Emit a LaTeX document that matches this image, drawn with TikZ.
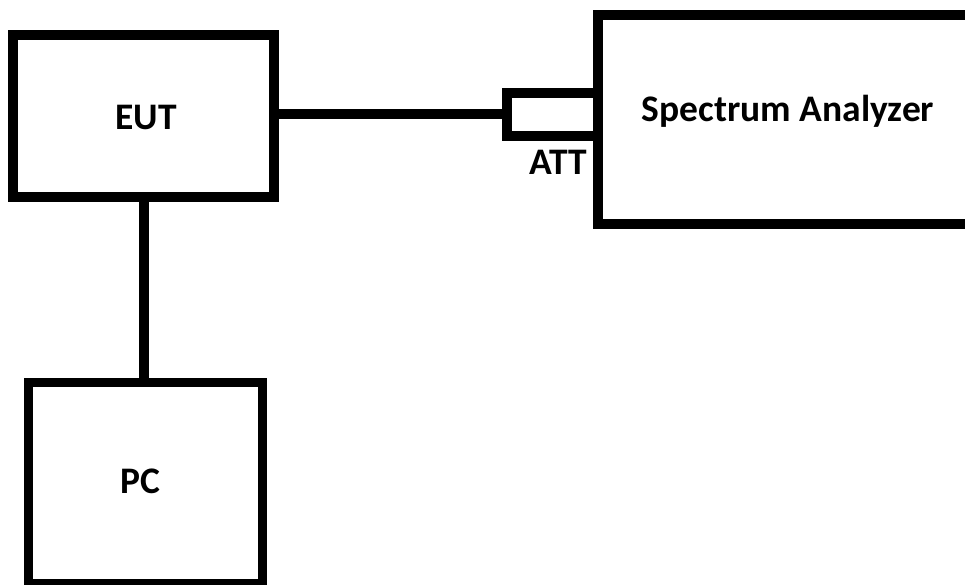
\documentclass[tikz,border=0pt]{standalone}
\usepackage{fontspec}
\setmainfont{Carlito}
\begin{document}
\begin{tikzpicture}[x=1pt,y=-1pt,
  box/.style={draw=black, line width=10pt, inner sep=0pt, outer sep=0pt},
  lbl/.style={font=\fontsize{37.5}{44}\selectfont\bfseries, text=black, inner sep=0pt, anchor=base},
  wire/.style={line width=10pt, draw=black}]
\useasboundingbox (0,0) rectangle (965,585);
\fill[white] (0,0) rectangle (965,585);
\clip (0,0) rectangle (965,585);
\node[box, minimum width=261pt, minimum height=162pt] (eut) at (143.5,116) {};
\node[box, line width=9pt, minimum width=234pt, minimum height=201pt] (pc) at (145,482.5) {};
\node[box, minimum width=400pt, minimum height=209pt] (sa) at (798,119.5) {};
\node[box, minimum width=91pt, minimum height=43pt] (att) at (552.5,114.5) {};
\draw[wire] (att.west) -- (att.west -| eut.east);
\draw[wire] (eut.south) -- (eut.south |- pc.north);
\node[lbl] (teut) at (146,130) {EUT};
\node[lbl] (tpc) at (140,493) {PC};
\node[lbl] (tsa) at (788,122) {Spectrum Analyzer};
\node[lbl] (tatt) at (558,175) {ATT};
\end{tikzpicture}
\end{document}
